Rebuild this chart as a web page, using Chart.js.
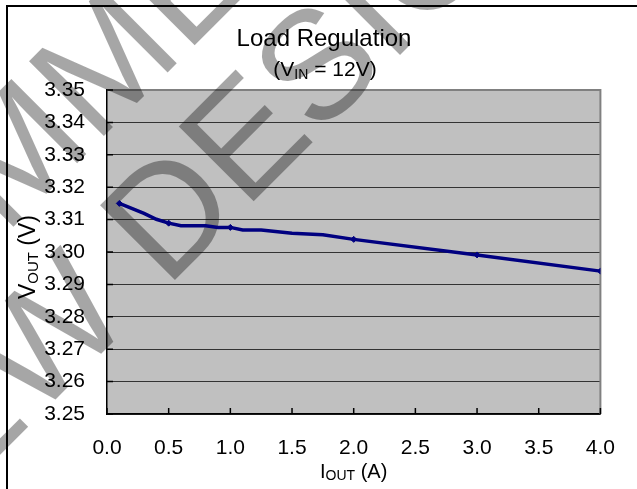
<html>
    <head>
        <style>
            body { margin: 0; background: #ffffff; }
        </style>
        <script src="https://cdn.jsdelivr.net/npm/chart.js"></script>
    </head>
    <body>
        <canvas id="chart" width="637" height="489"></canvas>
        <script>
            // load regulation curve
            var currents = [0.1, 0.3, 0.4, 0.5, 0.6, 0.8, 0.9, 1.0, 1.1, 1.25, 1.5, 1.75, 2.0, 3.0, 4.0];
            var voltages = [3.3150, 3.3119, 3.3101, 3.3089, 3.3081, 3.3081, 3.3076, 3.3076, 3.3068, 3.3068, 3.3058, 3.3053, 3.3039, 3.2991, 3.2941];
            var markedCurrents = [0.1, 0.5, 1.0, 2.0, 3.0, 4.0];
            var yTicks = [3.25, 3.26, 3.27, 3.28, 3.29, 3.30, 3.31, 3.32, 3.33, 3.34, 3.35];
            var xTicks = [0.0, 0.5, 1.0, 1.5, 2.0, 2.5, 3.0, 3.5, 4.0];

            var FONT = '"Liberation Sans", Arial, sans-serif';

            // draws text with subscript pieces, centred on x
            function drawParts(ctx, parts, x, y) {
                var total = 0;
                parts.forEach(function(p) {
                    ctx.font = p.size + 'px ' + FONT;
                    p.w = ctx.measureText(p.t).width;
                    total += p.w;
                });
                var cx = x - total / 2;
                parts.forEach(function(p) {
                    ctx.font = p.size + 'px ' + FONT;
                    ctx.fillText(p.t, cx, y + (p.dy || 0));
                    cx += p.w;
                });
            }

            var decorations = {
                id: 'decorations',
                beforeDraw: function(chart) {
                    var ctx = chart.ctx;
                    var a = chart.chartArea;
                    ctx.save();
                    ctx.fillStyle = '#ffffff';
                    ctx.fillRect(0, 0, chart.width, chart.height);
                    ctx.fillStyle = '#c0c0c0';
                    ctx.fillRect(a.left, a.top, a.right - a.left, a.bottom - a.top);
                    ctx.restore();
                },
                beforeDatasetsDraw: function(chart) {
                    var ctx = chart.ctx;
                    var a = chart.chartArea;
                    var xs = chart.scales.x, ys = chart.scales.y;
                    ctx.save();
                    // top and right border of the plot
                    ctx.strokeStyle = '#808080';
                    ctx.lineWidth = 2;
                    ctx.beginPath();
                    ctx.moveTo(a.left, a.top);
                    ctx.lineTo(a.right, a.top);
                    ctx.lineTo(a.right, a.bottom);
                    ctx.stroke();
                    // inner tick marks
                    ctx.strokeStyle = '#000000';
                    ctx.lineWidth = 1.5;
                    ctx.beginPath();
                    xTicks.forEach(function(v) {
                        var px = xs.getPixelForValue(v);
                        ctx.moveTo(px, a.bottom);
                        ctx.lineTo(px, a.bottom - 6);
                    });
                    yTicks.forEach(function(v) {
                        var py = ys.getPixelForValue(v);
                        ctx.moveTo(a.left, py);
                        ctx.lineTo(a.left + 6, py);
                    });
                    ctx.stroke();
                    // outer frame
                    ctx.lineWidth = 2;
                    ctx.beginPath();
                    ctx.moveTo(7, chart.height);
                    ctx.lineTo(7, 6);
                    ctx.lineTo(chart.width, 6);
                    ctx.stroke();
                    // watermark
                    ctx.fillStyle = 'rgba(0,0,0,0.35)';
                    ctx.font = '154px ' + FONT;
                    ctx.translate(166, 289);
                    ctx.rotate(-Math.PI / 4);
                    ctx.fillText('NEW DESIGN', -ctx.measureText('NEW ').width, 0);
                    ctx.fillText('NOT RECOMMENDED', 180 - ctx.measureText('NOT RECOMM').width, -152);
                    ctx.restore();
                },
                afterDraw: function(chart) {
                    var ctx = chart.ctx;
                    var a = chart.chartArea;
                    ctx.save();
                    ctx.fillStyle = '#000000';
                    ctx.textBaseline = 'alphabetic';
                    ctx.textAlign = 'left';
                    drawParts(ctx, [{t: 'Load Regulation', size: 24}], 324, 46);
                    drawParts(ctx, [
                        {t: '(V', size: 21},
                        {t: 'IN', size: 14, dy: 3},
                        {t: ' = 12V)', size: 21}
                    ], 325, 76);
                    drawParts(ctx, [
                        {t: 'I', size: 20},
                        {t: 'OUT', size: 14, dy: 2},
                        {t: ' (A)', size: 20}
                    ], (a.left + a.right) / 2, 478);
                    ctx.translate(35, 257);
                    ctx.rotate(-Math.PI / 2);
                    drawParts(ctx, [
                        {t: 'V', size: 23},
                        {t: 'OUT', size: 15, dy: 3},
                        {t: ' (V)', size: 23}
                    ], 0, 0);
                    ctx.restore();
                }
            };

            var points = currents.map(function(c, i) {
                return {x: c, y: voltages[i]};
            });

            var ctx = document.getElementById('chart').getContext('2d');
            var myChart = new Chart(ctx, {
                type: 'line',
                data: {
                    datasets: [{
                        data: points,
                        borderColor: '#000080',
                        backgroundColor: '#000080',
                        borderWidth: 3.5,
                        tension: 0,
                        pointStyle: 'rectRot',
                        pointRadius: function(c) {
                            var p = c.raw;
                            return p && markedCurrents.indexOf(p.x) >= 0 ? 3 : 0;
                        },
                        pointBorderWidth: 1
                    }]
                },
                options: {
                    responsive: false,
                    animation: false,
                    layout: { padding: { top: 90, right: 18, left: 0, bottom: 0 } },
                    plugins: {
                        legend: { display: false },
                        title: { display: false },
                        tooltip: { enabled: false }
                    },
                    scales: {
                        x: {
                            type: 'linear',
                            min: 0,
                            max: 4,
                            afterFit: function(s) { s.height = 75; },
                            afterBuildTicks: function(s) {
                                s.ticks = xTicks.map(function(v) { return {value: v}; });
                            },
                            grid: { display: false, drawTicks: false },
                            border: { color: '#000000', width: 1.5 },
                            ticks: {
                                padding: 22,
                                color: '#000000',
                                font: { family: FONT, size: 21 },
                                maxRotation: 0,
                                callback: function(v) { return Number(v).toFixed(1); }
                            }
                        },
                        y: {
                            min: 3.25,
                            max: 3.35,
                            afterFit: function(s) { s.width = 107; },
                            afterBuildTicks: function(s) {
                                s.ticks = yTicks.map(function(v) { return {value: v}; });
                            },
                            grid: {
                                drawTicks: false,
                                color: function(c) {
                                    return c.tick && c.tick.value >= 3.349 ? '#808080' : '#333333';
                                },
                                lineWidth: 1
                            },
                            border: { color: '#000000', width: 1.5 },
                            ticks: {
                                padding: 22,
                                color: '#000000',
                                font: { family: FONT, size: 21 },
                                callback: function(v) { return Number(v).toFixed(2); }
                            }
                        }
                    }
                },
                plugins: [decorations]
            });
        </script>
    </body>
</html>
